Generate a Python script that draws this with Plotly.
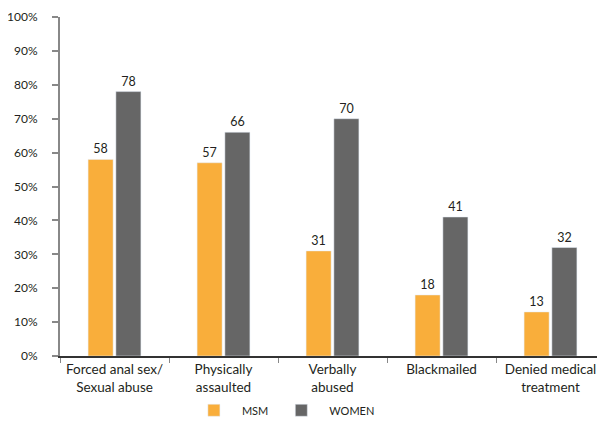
import plotly.graph_objects as go

categories = ["Forced anal sex/<br>Sexual abuse", "Physically<br>assaulted", "Verbally<br>abused", "Blackmailed", "Denied medical<br>treatment"]
msm = [58, 57, 31, 18, 13]
women = [78, 66, 70, 41, 32]
y_ticks = [0, 10, 20, 30, 40, 50, 60, 70, 80, 90, 100]
y_tick_labels = [f"{v}%" for v in y_ticks]

font_family = "Lato, Open Sans, sans-serif"
text_color = "#231f20"

fig = go.Figure()
fig.add_trace(go.Bar(name="MSM", x=categories, y=msm, marker_color="#F9AE3B",
                     text=msm, textposition="outside", cliponaxis=False,
                     textfont=dict(size=12.5, color=text_color, family=font_family)))
fig.add_trace(go.Bar(name="WOMEN", x=categories, y=women, marker_color="#666666",
                     text=women, textposition="outside", cliponaxis=False,
                     textfont=dict(size=12.5, color=text_color, family=font_family)))

# page body has an 8px default margin, so the figure is sized to end at the window edge
fig.update_layout(
    width=597, height=413,
    margin=dict(l=52, r=0, t=9, b=65),
    paper_bgcolor="white", plot_bgcolor="white",
    barmode="group", bargap=0.49, bargroupgap=0.1,
    font=dict(family=font_family, size=12.5, color=text_color),
    showlegend=True,
    legend=dict(orientation="h", xref="container", yref="container",
                x=0.298, y=0.026, xanchor="left", yanchor="middle",
                font=dict(size=11, color=text_color), itemwidth=46,
                traceorder="normal"),
    yaxis=dict(range=[0, 100], tickvals=y_ticks, ticktext=y_tick_labels,
               showgrid=False, zeroline=False, showline=True, linecolor="#888888",
               linewidth=2, ticks="outside", ticklen=6, tickcolor="#888888", tickwidth=2,
               tickfont=dict(size=12), ticklabelstandoff=12, automargin=False,
               ticklabeloverflow="allow"),
    xaxis=dict(showgrid=False, showline=True, linecolor="#333333", linewidth=1.5,
               ticks="outside", tickson="boundaries", ticklen=5, tickcolor="#888888",
               tickfont=dict(size=13.5), automargin=False),
)

fig.write_html("out.html")
